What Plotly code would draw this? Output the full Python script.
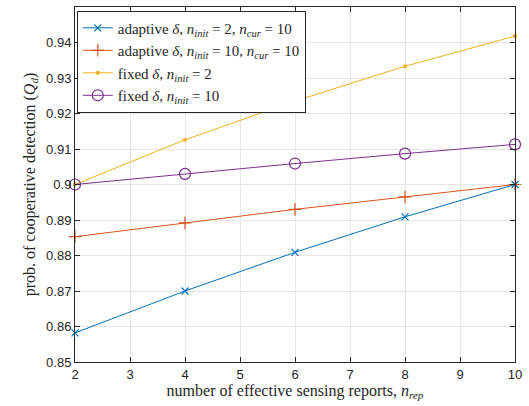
import plotly.graph_objects as go

x = [2, 4, 6, 8, 10]
adapt_2 = [0.8582, 0.8700, 0.8809, 0.8909, 0.9000]
adapt_10 = [0.8853, 0.8892, 0.8930, 0.8965, 0.9000]
fixed_2 = [0.9000, 0.9126, 0.9235, 0.9333, 0.9418]
fixed_10 = [0.9000, 0.9030, 0.9059, 0.9087, 0.9113]

eq = " = "
names = [
    f"adaptive <i>δ</i>, <i>n</i><sub><i>init</i></sub>{eq}2, <i>n</i><sub><i>cur</i></sub>{eq}10",
    f"adaptive <i>δ</i>, <i>n</i><sub><i>init</i></sub>{eq}10, <i>n</i><sub><i>cur</i></sub>{eq}10",
    f"fixed <i>δ</i>, <i>n</i><sub><i>init</i></sub>{eq}2",
    f"fixed <i>δ</i>, <i>n</i><sub><i>init</i></sub>{eq}10",
]
colors = ["#0072BD", "#D95319", "#EDB120", "#7E2F8E"]
symbols = ["x-thin-open", "cross-thin-open", "circle", "circle-open"]
sizes = [7, 9, 3, 11]
series = [adapt_2, adapt_10, fixed_2, fixed_10]

fig = go.Figure()
for name, y, c, s, sz in zip(names, series, colors, symbols, sizes):
    fig.add_trace(go.Scatter(
        x=x, y=y, name=name, mode="lines+markers",
        line=dict(color=c, width=1),
        marker=dict(symbol=s, size=sz, color=c, line=dict(color=c, width=1.2)),
        cliponaxis=False,
    ))

serif = "Liberation Serif, DejaVu Serif"
axis_common = dict(
    showgrid=True, gridcolor="#E6E6E6", gridwidth=1,
    showline=True, linecolor="#262626", linewidth=1, mirror="ticks",
    ticks="inside", ticklen=5, tickcolor="#262626",
    tickfont=dict(family="Liberation Sans, Arial", size=13, color="#262626"),
    zeroline=False,
)
fig.update_xaxes(range=[2, 10], dtick=1, **axis_common,
                 title=dict(text="number of effective sensing reports, <i>n</i><sub><i>rep</i></sub>",
                            font=dict(family=serif, size=16, color="#262626"),
                            standoff=2))
fig.update_yaxes(range=[0.85, 0.95], dtick=0.01, tickformat="~g", **axis_common,
                 title=dict(text="prob. of cooperative detection (<i>Q</i><sub><i>d</i></sub>)",
                            font=dict(family=serif, size=16, color="#262626"),
                            standoff=6))
fig.update_layout(
    width=529, height=406,
    margin=dict(l=75, r=14, t=7, b=44),
    plot_bgcolor="white", paper_bgcolor="white",
    legend=dict(x=0.004, y=0.99, xanchor="left", yanchor="top",
                bgcolor="white", bordercolor="#262626", borderwidth=1,
                font=dict(family=serif, size=15, color="#262626"),
                tracegroupgap=0, itemwidth=30),
    showlegend=True,
)
fig.write_html("out.html")
